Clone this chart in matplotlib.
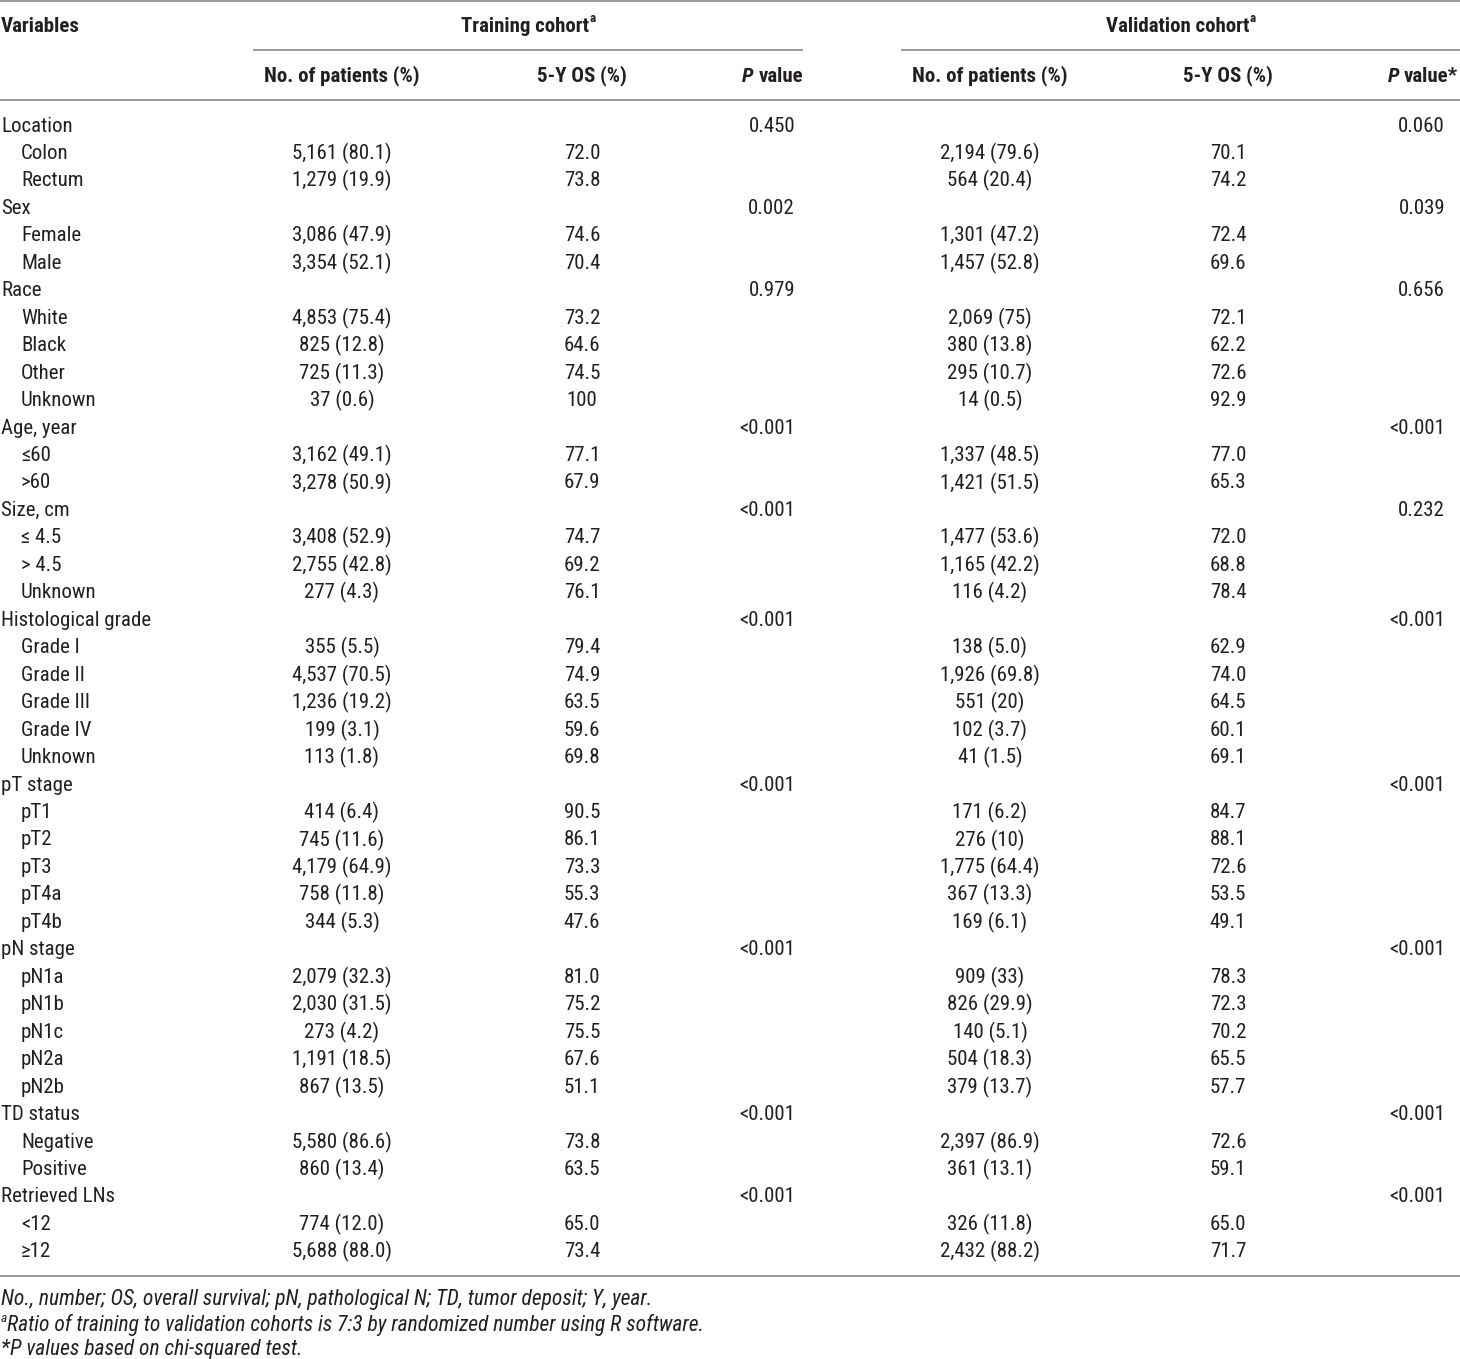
import matplotlib
matplotlib.use("Agg")
import matplotlib.pyplot as plt
from matplotlib import font_manager as fm

# ---------------- data ----------------
groups = ["Location", "Sex", "Race", "Age, year", "Size, cm", "Histological grade",
          "pT stage", "pN stage", "TD status", "Retrieved LNs"]
train_p = ["0.450", "0.002", "0.979", "<0.001", "<0.001", "<0.001", "<0.001", "<0.001", "<0.001", "<0.001"]
valid_p = ["0.060", "0.039", "0.656", "<0.001", "0.232", "<0.001", "<0.001", "<0.001", "<0.001", "<0.001"]
levels = [
    ["Colon", "Rectum"],
    ["Female", "Male"],
    ["White", "Black", "Other", "Unknown"],
    ["\u226460", ">60"],
    ["\u2264 4.5", "> 4.5", "Unknown"],
    ["Grade I", "Grade II", "Grade III", "Grade IV", "Unknown"],
    ["pT1", "pT2", "pT3", "pT4a", "pT4b"],
    ["pN1a", "pN1b", "pN1c", "pN2a", "pN2b"],
    ["Negative", "Positive"],
    ["<12", "\u226512"],
]
train_n = [
    ["5,161 (80.1)", "1,279 (19.9)"],
    ["3,086 (47.9)", "3,354 (52.1)"],
    ["4,853 (75.4)", "825 (12.8)", "725 (11.3)", "37 (0.6)"],
    ["3,162 (49.1)", "3,278 (50.9)"],
    ["3,408 (52.9)", "2,755 (42.8)", "277 (4.3)"],
    ["355 (5.5)", "4,537 (70.5)", "1,236 (19.2)", "199 (3.1)", "113 (1.8)"],
    ["414 (6.4)", "745 (11.6)", "4,179 (64.9)", "758 (11.8)", "344 (5.3)"],
    ["2,079 (32.3)", "2,030 (31.5)", "273 (4.2)", "1,191 (18.5)", "867 (13.5)"],
    ["5,580 (86.6)", "860 (13.4)"],
    ["774 (12.0)", "5,688 (88.0)"],
]
train_os = [
    ["72.0", "73.8"],
    ["74.6", "70.4"],
    ["73.2", "64.6", "74.5", "100"],
    ["77.1", "67.9"],
    ["74.7", "69.2", "76.1"],
    ["79.4", "74.9", "63.5", "59.6", "69.8"],
    ["90.5", "86.1", "73.3", "55.3", "47.6"],
    ["81.0", "75.2", "75.5", "67.6", "51.1"],
    ["73.8", "63.5"],
    ["65.0", "73.4"],
]
valid_n = [
    ["2,194 (79.6)", "564 (20.4)"],
    ["1,301 (47.2)", "1,457 (52.8)"],
    ["2,069 (75)", "380 (13.8)", "295 (10.7)", "14 (0.5)"],
    ["1,337 (48.5)", "1,421 (51.5)"],
    ["1,477 (53.6)", "1,165 (42.2)", "116 (4.2)"],
    ["138 (5.0)", "1,926 (69.8)", "551 (20)", "102 (3.7)", "41 (1.5)"],
    ["171 (6.2)", "276 (10)", "1,775 (64.4)", "367 (13.3)", "169 (6.1)"],
    ["909 (33)", "826 (29.9)", "140 (5.1)", "504 (18.3)", "379 (13.7)"],
    ["2,397 (86.9)", "361 (13.1)"],
    ["326 (11.8)", "2,432 (88.2)"],
]
valid_os = [
    ["70.1", "74.2"],
    ["72.4", "69.6"],
    ["72.1", "62.2", "72.6", "92.9"],
    ["77.0", "65.3"],
    ["72.0", "68.8", "78.4"],
    ["62.9", "74.0", "64.5", "60.1", "69.1"],
    ["84.7", "88.1", "72.6", "53.5", "49.1"],
    ["78.3", "72.3", "70.2", "65.5", "57.7"],
    ["72.6", "59.1"],
    ["65.0", "71.7"],
]
col_headers = ["No. of patients (%)", "5-Y OS (%)"]
cohorts = ["Training cohort", "Validation cohort"]
footnotes = [
    "No., number; OS, overall survival; pN, pathological N; TD, tumor deposit; Y, year.",
    "Ratio of training to validation cohorts is 7:3 by randomized number using R software.",
    "*P values based on chi-squared test.",
]

# ---------------- style ----------------
available = {f.name for f in fm.fontManager.ttflist}
FONT = next((f for f in ["Liberation Sans Narrow", "Roboto Condensed", "Liberation Sans"] if f in available), "DejaVu Sans")
plt.rcParams["font.family"] = [FONT, "DejaVu Sans"]
TXT = "#231f20"
LINE = "#9a9a9a"
FS = 15

W, H = 1460, 1359
fig = plt.figure(figsize=(W / 100, H / 100), dpi=100)
ax = fig.add_axes([0, 0, 1, 1])
ax.set_xlim(0, W)
ax.set_ylim(H, 0)
ax.axis("off")

# column layout (pixels)
x_var, x_sub = 1, 21
x_cols = [[342, 582, 795], [990, 1228, 1445]]
x_hdr_p = [803, 1458]
span = [(253, 803), (901, 1460)]
y_row0, dy = 126, 27.46

def hline(y, x0, x1, lw=1.4):
    ax.plot([x0, x1], [y, y], color=LINE, lw=lw, solid_capstyle="butt")

hline(1, 0, W)
hline(50, *span[0])
hline(50, *span[1])
hline(100, 0, W)
hline(1276, 0, W)

fig.canvas.draw()
rend = fig.canvas.get_renderer()

def text_with_prefix(x, y, main, prefix):
    t = ax.text(x, y, main, ha="right", va="center", color=TXT, fontsize=FS, fontweight="bold")
    bb = t.get_window_extent(renderer=rend)
    xl = ax.transData.inverted().transform((bb.x0, bb.y0))[0]
    ax.text(xl, y, prefix, ha="right", va="center", color=TXT, fontsize=FS,
            fontweight="bold", fontstyle="italic")

def text_with_sup(x, y, main, sup, weight="bold", style="normal", ha="center", fs=FS):
    t = ax.text(x, y, main, ha=ha, va="center", color=TXT, fontsize=fs, fontweight=weight, fontstyle=style)
    bb = t.get_window_extent(renderer=rend)
    xr = ax.transData.inverted().transform((bb.x1, bb.y0))[0]
    ax.text(xr + 0.5, y - 8, sup, ha="left", va="center", color=TXT, fontsize=fs * 0.62,
            fontweight=weight, fontstyle=style)

# headers
ax.text(x_var, 27, "Variables", ha="left", va="center", color=TXT, fontsize=FS, fontweight="bold")
for k in range(2):
    text_with_sup((span[k][0] + span[k][1]) / 2 - 3, 27, cohorts[k], "a")
    for j, h in enumerate(col_headers):
        ax.text(x_cols[k][j], 76, h, ha="center", va="center", color=TXT, fontsize=FS, fontweight="bold")
text_with_prefix(x_hdr_p[0], 76, "value", "P ")
text_with_prefix(x_hdr_p[1], 76, "value*", "P ")

# body
row = 0
for g in range(len(groups)):
    y = y_row0 + row * dy
    ax.text(x_var, y, groups[g], ha="left", va="center", color=TXT, fontsize=FS)
    ax.text(x_cols[0][2], y, train_p[g], ha="right", va="center", color=TXT, fontsize=FS)
    ax.text(x_cols[1][2], y, valid_p[g], ha="right", va="center", color=TXT, fontsize=FS)
    row += 1
    for i, lev in enumerate(levels[g]):
        y = y_row0 + row * dy
        ax.text(x_sub, y, lev, ha="left", va="center", color=TXT, fontsize=FS)
        ax.text(x_cols[0][0], y, train_n[g][i], ha="center", va="center", color=TXT, fontsize=FS)
        ax.text(x_cols[0][1], y, train_os[g][i], ha="center", va="center", color=TXT, fontsize=FS)
        ax.text(x_cols[1][0], y, valid_n[g][i], ha="center", va="center", color=TXT, fontsize=FS)
        ax.text(x_cols[1][1], y, valid_os[g][i], ha="center", va="center", color=TXT, fontsize=FS)
        row += 1

# footnotes
FFS = 15.5
ax.text(1, 1300, footnotes[0], ha="left", va="center", color=TXT, fontsize=FFS, fontstyle="italic")
sup = ax.text(1, 1318, "a", ha="left", va="center", color=TXT, fontsize=FFS * 0.62, fontstyle="italic")
bb = sup.get_window_extent(renderer=rend)
xs = ax.transData.inverted().transform((bb.x1, bb.y0))[0]
ax.text(xs, 1325, footnotes[1], ha="left", va="center", color=TXT, fontsize=FFS, fontstyle="italic")
ax.text(1, 1349, footnotes[2], ha="left", va="center", color=TXT, fontsize=FFS, fontstyle="italic")

fig.savefig("out.png", dpi=100, facecolor="white")
